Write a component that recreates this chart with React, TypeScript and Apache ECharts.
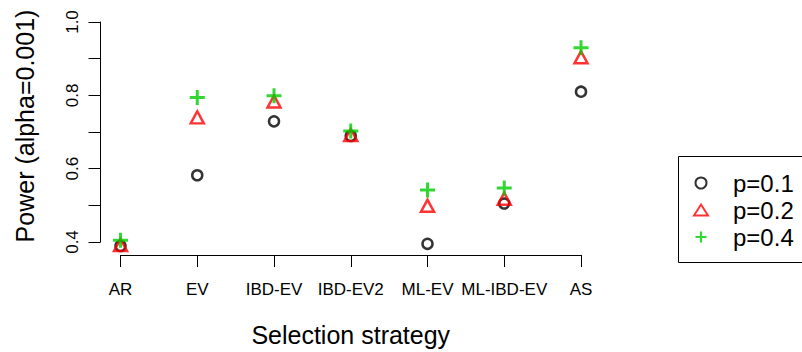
import React, { useEffect, useRef } from "react";
import * as echarts from "echarts";

const categories = ["AR", "EV", "IBD-EV", "IBD-EV2", "ML-EV", "ML-IBD-EV", "AS"];
const seriesNames = ["p=0.1", "p=0.2", "p=0.4"];
const powerP01 = [0.389, 0.582, 0.729, 0.689, 0.395, 0.505, 0.81];
const powerP02 = [0.392, 0.74, 0.783, 0.692, 0.499, 0.518, 0.904];
const powerP04 = [0.405, 0.794, 0.799, 0.703, 0.542, 0.547, 0.93];

const FONT = "'Liberation Sans', Arial, Helvetica, sans-serif";
const PLUS = "path://M4,0H6V4H10V6H6V10H4V6H0V4H4Z";
const GREEN = "#00CD00";
const RED = "#FF0000";

export default function App() {
  const ref = useRef<HTMLDivElement>(null);
  useEffect(() => {
    if (!ref.current) return;
    const chart = echarts.init(ref.current, undefined, { renderer: "svg", width: 802, height: 352 });
    const circleStyle = { color: "rgba(0,0,0,0)", borderColor: "#000", borderWidth: 2.5 };
    const triStyle = { color: "rgba(0,0,0,0)", borderColor: RED, borderWidth: 2.5 };
    const plusStyle = { color: GREEN, borderWidth: 0 };
    const circleLegend = { color: "rgba(0,0,0,0)", borderColor: "#000", borderWidth: 2 };
    const triLegend = { color: "rgba(0,0,0,0)", borderColor: RED, borderWidth: 2 };
    chart.setOption({
      animation: false,
      backgroundColor: "#fff",
      textStyle: { fontFamily: FONT },
      grid: { left: 120.5, width: 460.5, top: 22, height: 224, containLabel: false },
      xAxis: {
        type: "category",
        data: categories,
        boundaryGap: false,
        offset: 13,
        axisLine: { show: true, lineStyle: { color: "#000", width: 1 } },
        axisTick: { show: true, length: 12, alignWithLabel: true, lineStyle: { color: "#000" } },
        axisLabel: { color: "#000", fontSize: 17, margin: 26, fontFamily: FONT, interval: 0 },
        splitLine: { show: false },
        name: "Selection strategy",
        nameLocation: "middle",
        nameGap: 67,
        nameTextStyle: { color: "#000", fontSize: 25, fontFamily: FONT },
      },
      yAxis: {
        type: "value",
        min: 0.4,
        max: 1.0,
        interval: 0.1,
        offset: 20,
        axisLine: { show: true, lineStyle: { color: "#000", width: 1 } },
        axisTick: { show: true, length: 12, lineStyle: { color: "#000" } },
        axisLabel: {
          color: "#000",
          fontSize: 17,
          rotate: 90,
          margin: 20,
          fontFamily: FONT,
          formatter: (v: number) => {
            const k = Math.round(v * 10);
            return k % 2 === 0 ? (k / 10).toFixed(1) : "";
          },
        },
        splitLine: { show: false },
      },
      legend: {
        orient: "vertical",
        left: 693,
        top: 171,
        padding: 0,
        itemGap: 3,
        itemWidth: 14,
        itemHeight: 11,
        textStyle: { color: "#000", fontSize: 24, fontFamily: FONT, padding: [0, 0, 0, 20] },
        data: [
          { name: seriesNames[0], icon: "circle", itemStyle: circleLegend },
          { name: seriesNames[1], icon: "triangle", itemStyle: triLegend },
          { name: seriesNames[2], icon: PLUS, itemStyle: plusStyle },
        ],
      },
      graphic: [
        {
          type: "rect",
          shape: { x: 678.5, y: 156.5, width: 140, height: 106 },
          style: { fill: "none", stroke: "#000", lineWidth: 1 },
          silent: true,
        },
        {
          type: "text",
          x: 25,
          y: 126,
          rotation: Math.PI / 2,
          style: {
            text: "Power (alpha=0.001)",
            fill: "#000",
            fontSize: 25,
            fontFamily: FONT,
            textAlign: "center",
            textVerticalAlign: "middle",
          },
        },
      ],
      series: [
        {
          name: seriesNames[0],
          type: "scatter",
          data: powerP01,
          symbol: "circle",
          symbolSize: 10,
          itemStyle: circleStyle,
          clip: false,
        },
        {
          name: seriesNames[1],
          type: "scatter",
          data: powerP02,
          symbol: "triangle",
          symbolSize: [13, 12],
          itemStyle: triStyle,
          clip: false,
        },
        {
          name: seriesNames[2],
          type: "scatter",
          data: powerP04,
          symbol: PLUS,
          symbolSize: 15,
          itemStyle: plusStyle,
          clip: false,
        },
      ],
    });
    return () => chart.dispose();
  }, []);
  return (
    <div
      ref={ref}
      style={{ position: "fixed", left: 0, top: 0, width: 802, height: 352, background: "#fff" }}
    />
  );
}
